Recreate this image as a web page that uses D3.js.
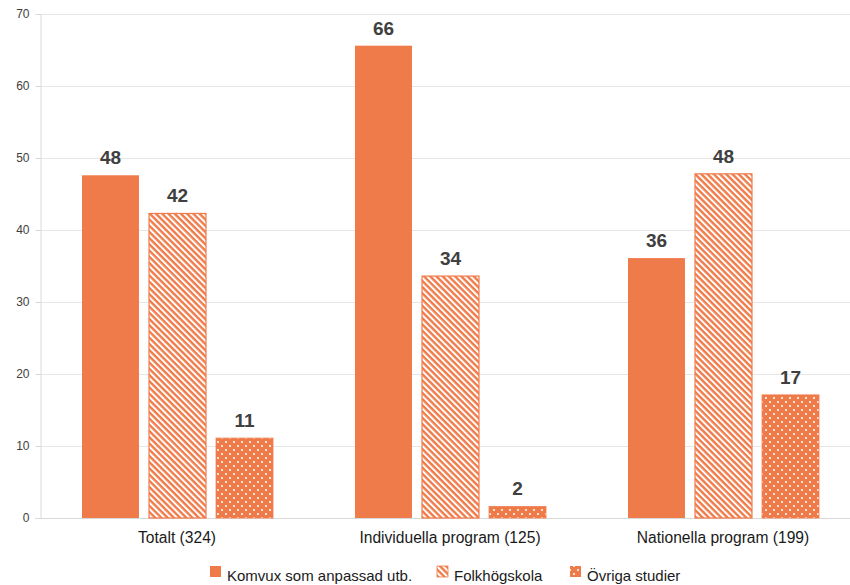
<!DOCTYPE html>
<html><head><meta charset="utf-8">
<script src="https://cdn.jsdelivr.net/npm/d3@7"></script>
<style>body{margin:0;background:#fff}svg{display:block;font-family:"Liberation Sans",Arial,sans-serif}</style>
</head><body>
<svg id="c" width="850" height="585"></svg>
<script>
const categories = ["Totalt (324)", "Individuella program (125)", "Nationella program (199)"];
const seriesNames = ["Komvux som anpassad utb.", "Folkhögskola", "Övriga studier"];
const komvux = [47.6, 65.6, 36.1];
const folkhogskola = [42.3, 33.6, 47.8];
const ovriga = [11.1, 1.6, 17.1];
const valueLabels = [[48, 66, 36], [42, 34, 48], [11, 2, 17]];
const yTicks = [0, 10, 20, 30, 40, 50, 60, 70];

const series = [komvux, folkhogskola, ovriga];
const orange = "#F07B4A";
const svg = d3.select("#c");
const defs = svg.append("defs");
// hatch pattern ("\" direction)
const ph = defs.append("pattern").attr("id","hatch").attr("patternUnits","userSpaceOnUse")
  .attr("width",4.4).attr("height",4.4).attr("patternTransform","rotate(45)");
ph.append("rect").attr("width",4.4).attr("height",4.4).attr("fill","#fff");
ph.append("rect").attr("x",0).attr("y",0).attr("width",4.4).attr("height",2.4).attr("fill",orange);
// dots pattern
const pd = defs.append("pattern").attr("id","dots").attr("patternUnits","userSpaceOnUse")
  .attr("width",8).attr("height",8);
pd.append("rect").attr("width",8).attr("height",8).attr("fill",orange);
pd.append("rect").attr("x",1).attr("y",1).attr("width",2).attr("height",2).attr("fill","#fde3d6");
pd.append("rect").attr("x",5).attr("y",5).attr("width",2).attr("height",2).attr("fill","#fde3d6");
const fills = [orange, "url(#hatch)", "url(#dots)"];

const y = d3.scaleLinear().domain([0,70]).range([518,14]);
const x0 = d3.scaleBand().domain(categories).range([40.5,859.5]);
const x1 = d3.scaleBand().domain([0,1,2]).range([41.5,232.5]).paddingInner(0.15);

// gridlines
svg.append("g").selectAll("line").data(yTicks.filter(d=>d>0)).join("line")
  .attr("x1",40).attr("x2",850).attr("y1",d=>y(d)+0.5).attr("y2",d=>y(d)+0.5)
  .attr("stroke","#e6e6e6").attr("stroke-width",1);

const yAxis = svg.append("g").attr("transform","translate(40.5,0)")
  .call(d3.axisLeft(y).tickValues(yTicks).tickSize(5).tickPadding(6));
yAxis.select(".domain").attr("stroke","#d9d9d9");
yAxis.selectAll(".tick line").attr("stroke","#d9d9d9");
yAxis.selectAll("text").attr("fill","#404040").style("font-size","12px");

// baseline
svg.append("line").attr("x1",35).attr("x2",850).attr("y1",518.5).attr("y2",518.5).attr("stroke","#d9d9d9");

// bars
series.forEach((vals, si) => {
  const g = svg.append("g");
  g.selectAll("rect").data(vals).join("rect")
    .attr("x",(d,i)=>x0(categories[i]) + x1(si))
    .attr("width",x1.bandwidth())
    .attr("y",d=>y(d))
    .attr("height",d=>y(0)-y(d))
    .attr("fill",fills[si])
    .attr("stroke", si===0 ? "none" : orange).attr("stroke-width", si===1 ? 1.2 : 0.8);
  g.selectAll("text").data(vals).join("text")
    .attr("x",(d,i)=>x0(categories[i]) + x1(si) + x1.bandwidth()/2)
    .attr("y",d=>y(d)-11)
    .attr("text-anchor","middle")
    .attr("fill","#404040").style("font-size","19px").style("font-weight","bold")
    .text((d,i)=>valueLabels[si][i]);
});

// category labels
svg.append("g").selectAll("text").data(categories).join("text")
  .attr("x",d=>x0(d)+x0.bandwidth()/2).attr("y",543)
  .attr("text-anchor","middle").attr("fill","#1a1a1a").style("font-size","15.6px")
  .text(d=>d);

// legend
const legX = [210, 437, 570];
const lg = svg.append("g");
seriesNames.forEach((n,i)=>{
  lg.append("rect").attr("x",legX[i]).attr("y",566).attr("width",11).attr("height",11)
    .attr("fill",fills[i]).attr("stroke", i===1?orange:"none").attr("stroke-width",0.8);
  lg.append("text").attr("x",legX[i]+17).attr("y",581).attr("fill","#1a1a1a")
    .style("font-size","15px").text(n);
});
</script>
</body></html>
